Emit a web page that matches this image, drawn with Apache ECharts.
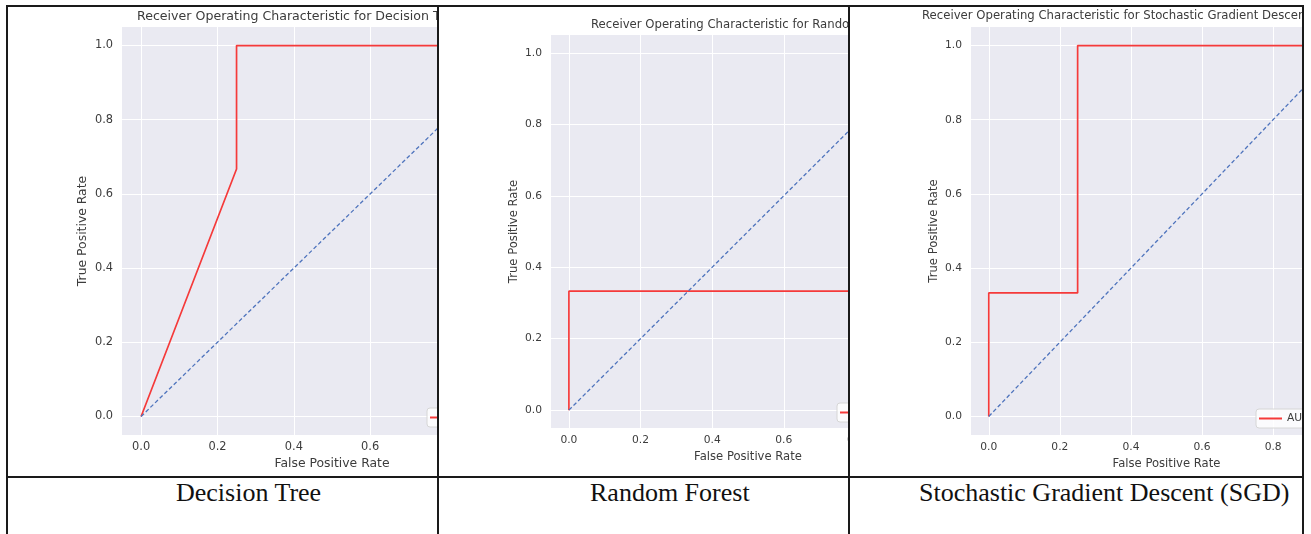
<!DOCTYPE html>
<html>
<head>
<meta charset="utf-8">
<script src="https://cdn.jsdelivr.net/npm/echarts@6/dist/echarts.min.js"></script>
<style>
  html, body { margin: 0; padding: 0; background: #fff; }
  #page { position: relative; width: 1311px; height: 534px; overflow: hidden; background: #fff; }
  .clip { position: absolute; overflow: hidden; }
  .chart { position: absolute; width: 1420px; height: 480px; }
  .rule { position: absolute; background: #1a1a1a; }
  .cap { position: absolute; font-family: "Liberation Serif", "Times New Roman", serif; font-size: 26px; line-height: 26px; color: #111; white-space: nowrap; }
</style>
</head>
<body>
<div id="page">
  <div class="clip" style="left:8px;top:7px;width:429px;height:469px;"><div id="c1" class="chart" style="left:-8px;top:-7px;"></div></div>
  <div class="clip" style="left:439px;top:7px;width:409px;height:469px;"><div id="c2" class="chart" style="left:-439px;top:-7px;"></div></div>
  <div class="clip" style="left:850px;top:7px;width:452px;height:469px;"><div id="c3" class="chart" style="left:-850px;top:-7px;"></div></div>

  <div class="rule" style="left:6px;top:5px;width:1298px;height:2px;"></div>
  <div class="rule" style="left:6px;top:476px;width:1298px;height:2px;"></div>
  <div class="rule" style="left:6px;top:5px;width:2px;height:529px;"></div>
  <div class="rule" style="left:437px;top:5px;width:2px;height:529px;"></div>
  <div class="rule" style="left:848px;top:5px;width:2px;height:529px;"></div>
  <div class="rule" style="left:1302px;top:5px;width:2px;height:529px;"></div>

  <div class="cap" id="cap1" style="left:176px;top:480px;"></div>
  <div class="cap" id="cap2" style="left:590px;top:480px;"></div>
  <div class="cap" id="cap3" style="left:919px;top:480px;"></div>
</div>
<script>
// ---- data ----
const tickValues = [0, 0.2, 0.4, 0.6, 0.8, 1.0];
const chanceLine = [0, 1];

const dtFpr = [0, 0.25, 0.25, 1];
const dtTpr = [0, 0.667, 1, 1];

const rfFpr = [0, 0, 1, 1];
const rfTpr = [0, 0.333, 0.333, 1];

const sgdFpr = [0, 0, 0.25, 0.25, 1];
const sgdTpr = [0, 0.333, 0.333, 1, 1];

const aucLabels = ['AUC = 0.83', 'AUC = 0.33', 'AUC = 0.83'];
const chartTitles = [
  'Receiver Operating Characteristic for Decision Tree Classifier',
  'Receiver Operating Characteristic for Random Forest Classifier',
  'Receiver Operating Characteristic for Stochastic Gradient Descent (SGD)'
];
const captions = ['Decision Tree', 'Random Forest', 'Stochastic Gradient Descent (SGD)'];
const xName = 'False Positive Rate';
const yName = 'True Positive Rate';

// ---- helpers ----
function zip(a, b) { return a.map((v, i) => [v, b[i]]); }

const FONT = 'DejaVu Sans';
const TXT = '#3c3c3c';

function buildOption(p) {
  const tickStyle = { color: TXT, fontSize: p.tick, fontFamily: FONT };
  return {
    animation: false,
    title: {
      text: p.title, left: p.titleLeft, top: p.titleTop, padding: 0,
      textStyle: { fontFamily: FONT, fontSize: p.titleSize, fontWeight: 'normal', color: TXT }
    },
    grid: {
      left: p.grid[0], top: p.grid[1], width: p.grid[2], height: p.grid[3],
      show: true, backgroundColor: '#EAEAF2', borderWidth: 0
    },
    legend: {
      data: [p.auc], left: p.legend[0], top: p.legend[1],
      icon: 'rect', itemWidth: 23, itemHeight: 2,
      padding: [4, 6, 4, 3],
      backgroundColor: 'rgba(255,255,255,0.8)', borderColor: '#d6d6d6', borderWidth: 1, borderRadius: 3,
      textStyle: { fontFamily: FONT, fontSize: p.tick, color: TXT }
    },
    xAxis: {
      type: 'value', min: -0.05, max: 1.05,
      name: xName, nameLocation: 'middle', nameGap: p.xNameGap,
      nameTextStyle: { fontFamily: FONT, fontSize: p.label, color: TXT },
      axisLine: { show: false },
      axisTick: { show: false, customValues: tickValues },
      axisLabel: Object.assign({ customValues: tickValues, margin: 7, formatter: v => v.toFixed(1) }, tickStyle),
      splitLine: { show: true, lineStyle: { color: '#ffffff', width: 1 } }
    },
    yAxis: {
      type: 'value', min: -0.05, max: 1.05,
      name: yName, nameLocation: 'middle', nameGap: p.yNameGap, nameRotate: 90,
      nameTextStyle: { fontFamily: FONT, fontSize: p.label, color: TXT },
      axisLine: { show: false },
      axisTick: { show: false, customValues: tickValues },
      axisLabel: Object.assign({ customValues: tickValues, margin: 9, formatter: v => v.toFixed(1) }, tickStyle),
      splitLine: { show: true, lineStyle: { color: '#ffffff', width: 1 } }
    },
    series: [
      {
        type: 'line', name: p.auc, data: zip(p.fpr, p.tpr),
        showSymbol: false, symbol: 'none',
        lineStyle: { color: '#f53a3a', width: 1.7 }, itemStyle: { color: '#f53a3a' }
      },
      {
        type: 'line', name: 'chance', data: zip(chanceLine, chanceLine),
        showSymbol: false, symbol: 'none',
        lineStyle: { color: '#4f74bd', width: 1.3, type: [4, 2.5] }, itemStyle: { color: '#4f74bd' }
      }
    ]
  };
}

const panels = [
  { id: 'c1', title: chartTitles[0], titleLeft: 137, titleTop: 10, titleSize: 12.6,
    grid: [122, 27, 420, 408], tick: 11.4, label: 12.4, xNameGap: 21, yNameGap: 33,
    legend: [427, 408], auc: aucLabels[0], fpr: dtFpr, tpr: dtTpr },
  { id: 'c2', title: chartTitles[1], titleLeft: 591, titleTop: 19, titleSize: 11.7,
    grid: [551, 35, 394, 393], tick: 10.7, label: 11.6, xNameGap: 20, yNameGap: 31,
    legend: [837, 403], auc: aucLabels[1], fpr: rfFpr, tpr: rfTpr },
  { id: 'c3', title: chartTitles[2], titleLeft: 922, titleTop: 10, titleSize: 11.7,
    grid: [971, 27, 391, 408], tick: 10.7, label: 11.6, xNameGap: 21, yNameGap: 31,
    legend: [1256, 409], auc: aucLabels[2], fpr: sgdFpr, tpr: sgdTpr }
];

panels.forEach(p => {
  const chart = echarts.init(document.getElementById(p.id), null, { renderer: 'canvas' });
  chart.setOption(buildOption(p));
});

captions.forEach((c, i) => { document.getElementById('cap' + (i + 1)).textContent = c; });
</script>
</body>
</html>
